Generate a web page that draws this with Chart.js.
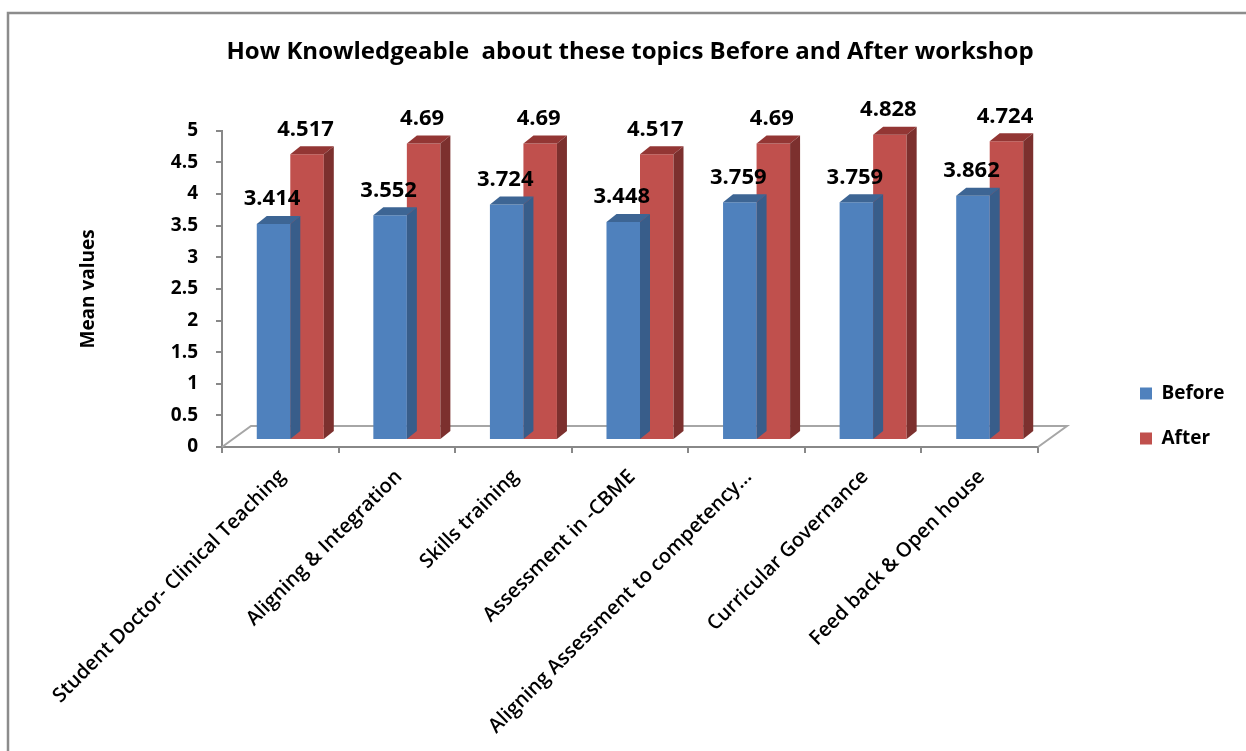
<!DOCTYPE html>
<html lang="en">
<head>
    <meta charset="UTF-8">
    <title>How Knowledgeable about these topics Before and After workshop</title>
    <script src="https://cdn.jsdelivr.net/npm/chart.js"></script>
    <style>
        body {
            margin: 0;
            background: #fff;
        }
        #chart {
            display: block;
        }
    </style>
</head>
<body>
    <canvas id="chart" width="1246" height="751"></canvas>

    <script>
        const topics = [
            'Student Doctor- Clinical Teaching',
            'Aligning & Integration',
            'Skills training',
            'Assessment in -CBME',
            'Aligning Assessment to competency...',
            'Curricular Governance',
            'Feed back & Open house'
        ];
        const before = [3.414, 3.552, 3.724, 3.448, 3.759, 3.759, 3.862];
        const after = [4.517, 4.69, 4.69, 4.517, 4.69, 4.828, 4.724];
        const yTickLabels = ['0', '0.5', '1', '1.5', '2', '2.5', '3', '3.5', '4', '4.5', '5'];

        // fake 3d: bars sit a third of the way into the floor
        const depth = { dx: 10, dy: 8 };
        const floor = { dx: 29, dy: 21 };
        const barShift = { x: 10, y: -7 };
        const faceColors = [
            { top: '#3d6594', side: '#385d8a' },
            { top: '#933634', side: '#7c302e' }
        ];

        Chart.defaults.font.family = "'Open Sans', sans-serif";
        Chart.defaults.color = '#000';

        // legend box width, so the plot can end at x = 1038
        const legendPad = 26, legendBox = 12, legendSize = 19;
        const measure = document.createElement('canvas').getContext('2d');
        measure.font = "bold " + legendSize + "px 'Open Sans', sans-serif";
        const legendText = Math.max(measure.measureText('Before').width, measure.measureText('After').width);
        const legendWidth = legendPad + legendBox + legendSize / 2 + legendText + 10;
        const padRight = 1246 - 1038 - legendWidth;

        function drawFaces(ctx, el, colors) {
            const { x, y, base, width } = el.getProps(['x', 'y', 'base', 'width'], true);
            const l = x - width / 2, r = x + width / 2;
            ctx.fillStyle = colors.top;
            ctx.beginPath();
            ctx.moveTo(l, y);
            ctx.lineTo(l + depth.dx, y - depth.dy);
            ctx.lineTo(r + depth.dx, y - depth.dy);
            ctx.lineTo(r, y);
            ctx.closePath();
            ctx.fill();
            ctx.fillStyle = colors.side;
            ctx.beginPath();
            ctx.moveTo(r, y);
            ctx.lineTo(r + depth.dx, y - depth.dy);
            ctx.lineTo(r + depth.dx, base - depth.dy);
            ctx.lineTo(r, base);
            ctx.closePath();
            ctx.fill();
        }

        const bars3d = {
            id: 'bars3d',
            afterLayout(chart) {
                // legend sits off to the right, away from the plot
                const lg = chart.legend;
                const w = lg.right - lg.left, h = lg.bottom - lg.top;
                lg.left = 1140 - legendPad; lg.right = lg.left + w;
                lg.top = 358; lg.bottom = lg.top + h;
            },
            beforeDraw(chart) {
                const ctx = chart.ctx;
                ctx.save();
                ctx.strokeStyle = '#8c8c8c';
                ctx.lineWidth = 2.5;
                ctx.strokeRect(8, 13, 1400, 900);
                ctx.restore();
            },
            beforeDatasetsDraw(chart) {
                const ctx = chart.ctx;
                const { left, right, bottom } = chart.chartArea;
                ctx.save();
                ctx.strokeStyle = '#a6a6a6';
                ctx.lineWidth = 2;
                ctx.beginPath();
                ctx.moveTo(left, bottom);
                ctx.lineTo(left + floor.dx, bottom - floor.dy);
                ctx.lineTo(right + floor.dx, bottom - floor.dy);
                ctx.lineTo(right, bottom);
                ctx.stroke();
                ctx.restore();
                ctx.save();
                ctx.translate(barShift.x, barShift.y);
            },
            afterDatasetDraw(chart, args) {
                const ctx = chart.ctx;
                args.meta.data.forEach(el => drawFaces(ctx, el, faceColors[args.index]));
            },
            afterDatasetsDraw(chart) {
                const ctx = chart.ctx;
                ctx.font = "bold 22px 'Open Sans', sans-serif";
                ctx.fillStyle = '#000';
                ctx.textAlign = 'center';
                ctx.textBaseline = 'middle';
                chart.data.datasets.forEach((ds, i) => {
                    chart.getDatasetMeta(i).data.forEach((el, j) => {
                        ctx.fillText(String(ds.data[j]), el.x - 1.5, el.y - 25);
                    });
                });
                ctx.restore();
            }
        };

        new Chart(document.getElementById('chart'), {
            type: 'bar',
            data: {
                labels: topics,
                datasets: [{
                    label: 'Before',
                    data: before,
                    backgroundColor: '#4f81bd',
                    categoryPercentage: 0.575,
                    barPercentage: 1,
                    clip: false
                }, {
                    label: 'After',
                    data: after,
                    backgroundColor: '#c0504d',
                    categoryPercentage: 0.575,
                    barPercentage: 1,
                    clip: false
                }]
            },
            options: {
                responsive: false,
                animation: false,
                layout: {
                    padding: { left: 77, right: padRight, top: 0, bottom: 0 }
                },
                plugins: {
                    title: {
                        display: true,
                        text: 'How Knowledgeable  about these topics Before and After workshop',
                        fullSize: false,
                        font: { size: 24, weight: 'bold', lineHeight: 1.2 },
                        padding: { top: 38, bottom: 64 }
                    },
                    legend: {
                        position: 'right',
                        align: 'start',
                        labels: {
                            boxWidth: legendBox,
                            boxHeight: legendBox,
                            padding: legendPad,
                            font: { size: legendSize, weight: 'bold' }
                        }
                    },
                    tooltip: { enabled: false }
                },
                scales: {
                    x: {
                        afterFit(scale) { scale.height = 304; },
                        grid: {
                            offset: true,
                            drawOnChartArea: false,
                            tickLength: 6,
                            color: '#888',
                            lineWidth: 2
                        },
                        border: { color: '#888', width: 2 },
                        ticks: {
                            autoSkip: false,
                            minRotation: 45,
                            maxRotation: 45,
                            padding: 12,
                            labelOffset: 2,
                            font: { size: 20, weight: 600 }
                        }
                    },
                    y: {
                        min: 0,
                        max: 5,
                        afterFit(scale) { scale.width = 145; },
                        grid: {
                            drawOnChartArea: false,
                            tickLength: 6,
                            color: '#888',
                            lineWidth: 2
                        },
                        border: { color: '#888', width: 2 },
                        ticks: {
                            stepSize: 0.5,
                            padding: 18,
                            font: { size: 19, weight: 'bold' },
                            callback: (v, i) => yTickLabels[i]
                        },
                        title: {
                            display: true,
                            text: 'Mean values',
                            padding: 0,
                            font: { size: 19, weight: 'bold', lineHeight: 1.2 }
                        }
                    }
                }
            },
            plugins: [bars3d]
        });
    </script>
</body>
</html>
